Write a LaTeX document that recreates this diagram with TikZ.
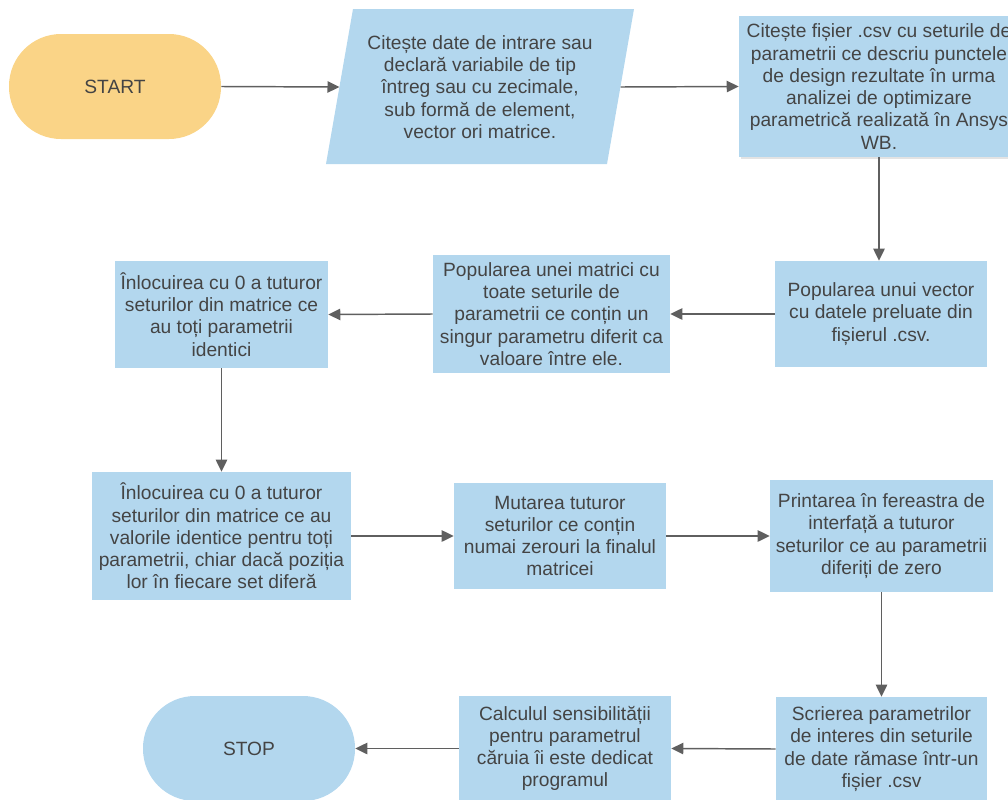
\documentclass[tikz,border=0pt]{standalone}
\usepackage{fontspec}
\setmainfont{Liberation Sans}
\usetikzlibrary{arrows.meta,shadows}
\definecolor{boxblue}{RGB}{179,215,238}
\definecolor{startyellow}{RGB}{250,212,135}
\definecolor{txt}{RGB}{68,68,68}
\definecolor{linec}{RGB}{95,95,95}
\tikzset{
  box/.style={fill=boxblue, draw=none, text=txt, align=center, inner sep=0pt,
    font=\fontsize{14.4}{16.7}\selectfont},
  term/.style={box, rounded corners=39pt, minimum width=159pt, minimum height=78.75pt},
  conn/.style={draw=linec, line width=1.1pt, -{Triangle[length=9pt,width=8.5pt]}},
}
\begin{document}
\begin{tikzpicture}[x=0.75pt,y=-0.75pt]
\useasboundingbox (0,0) rectangle (1008,800);
\clip (0,0) rectangle (1008,800);

% START
\node[term, fill=startyellow] (start) at (115,86.5) {START};

% input parallelogram
\fill[boxblue] (353,9) -- (634,9) -- (607,164) -- (326,164) -- cycle;
\node[box, fill=none] (in) at (480,87) {Citește date de intrare sau\\declară variabile de tip\\întreg sau cu zecimale,\\sub formă de element,\\vector ori matrice.};
\coordinate (inW) at (339.5,87);
\coordinate (inE) at (620.5,87);

% read csv
\node[box, minimum width=210pt, minimum height=105.75pt,
  drop shadow={opacity=0.22, shadow xshift=1.5pt, shadow yshift=-1.5pt}]
  (b3) at (879,86.5) {Citește fișier .csv cu seturile de\\parametrii ce descriu punctele\\de design rezultate în urma\\analizei de optimizare\\parametrică realizată în Ansys\\WB.};

\node[box, minimum width=159pt, minimum height=79.5pt] (b4) at (881,314)
  {Popularea unui vector\\cu datele preluate din\\fișierul .csv.};
\node[box, minimum width=177.75pt, minimum height=88.5pt] (b5) at (551.5,314)
  {Popularea unei matrici cu\\toate seturile de\\parametrii ce conțin un\\singur parametru diferit ca\\valoare între ele.};
\node[box, minimum width=159.75pt, minimum height=80.25pt] (b6) at (221.5,314.5)
  {Înlocuirea cu 0 a tuturor\\seturilor din matrice ce\\au toți parametrii\\identici};
\node[box, minimum width=194.25pt, minimum height=96pt] (b7) at (221.5,536)
  {Înlocuirea cu 0 a tuturor\\seturilor din matrice ce au\\valorile identice pentru toți\\parametrii, chiar dacă poziția\\lor în fiecare set diferă};
\node[box, minimum width=159pt, minimum height=79.5pt] (b8) at (560,536)
  {Mutarea tuturor\\seturilor ce conțin\\numai zerouri la finalul\\matricei};
\node[box, minimum width=167.25pt, minimum height=84pt] (b9) at (881.5,536)
  {Printarea în fereastra de\\interfață a tuturor\\seturilor ce au parametrii\\diferiți de zero};
\node[box, minimum width=158.25pt, minimum height=78pt] (b10) at (881.5,749)
  {Scrierea parametrilor\\de interes din seturile\\de date rămase într-un\\fișier .csv};
\node[box, minimum width=159pt, minimum height=78.75pt] (b11) at (565,748.5)
  {Calculul sensibilității\\pentru parametrul\\căruia îi este dedicat\\programul};
\node[term] (stop) at (249,748.5) {STOP};

% connectors
\draw[conn] (start.east) -- (inW);
\draw[conn] (inE) -- (b3.west);
\draw[conn] (b3.south) -- (b3.south |- b4.north);
\draw[conn] (b4.west) -- (b5.east);
\draw[conn] (b5.west) -- (b6.east);
\draw[conn] (b6.south) -- (b6.south |- b7.north);
\draw[conn] (b7.east) -- (b8.west);
\draw[conn] (b8.east) -- (b9.west);
\draw[conn] (b9.south) -- (b9.south |- b10.north);
\draw[conn] (b10.west) -- (b11.east);
\draw[conn] (b11.west) -- (stop.east);
\end{tikzpicture}
\end{document}
